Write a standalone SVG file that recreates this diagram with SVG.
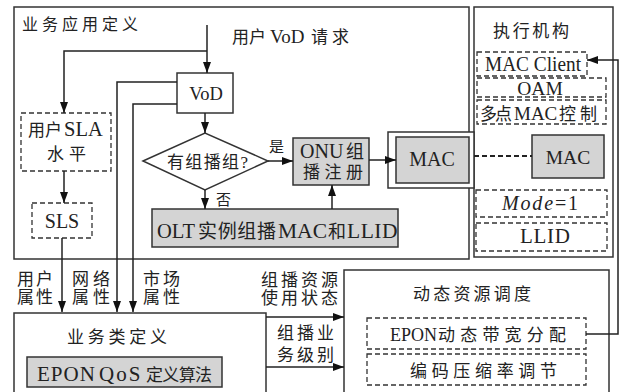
<svg xmlns="http://www.w3.org/2000/svg" width="620" height="392" viewBox="0 0 620 392" font-size="17">
<style>
text{font-family:"Liberation Serif","Times New Roman","DejaVu Serif","Noto Sans CJK SC",serif;fill:#222}
.box{fill:#fff;stroke:#333;stroke-width:1.5}
.gray{fill:#d4d4d4;stroke:#333;stroke-width:1.5}
.dash{fill:#fff;stroke:#333;stroke-width:1.3;stroke-dasharray:5,3}
.ln{fill:none;stroke:#222;stroke-width:1.5}
.c{text-anchor:middle}
</style>
<defs>
<marker id="ah" markerWidth="11" markerHeight="8" refX="11" refY="4" orient="auto" markerUnits="userSpaceOnUse">
<path d="M0,0 L11,4 L0,8 z" fill="#111"/>
</marker>
</defs>
<rect width="620" height="392" fill="#fff"/>

<g id="app-def">
<rect class="box" x="14" y="7" width="455" height="252"/>
<text x="22" y="30" font-size="16" textLength="116" lengthAdjust="spacing">业务应用定义</text>
<text y="43"><tspan x="232" textLength="34" lengthAdjust="spacing">用户</tspan><tspan x="270" font-size="19">VoD</tspan><tspan x="311" textLength="38" lengthAdjust="spacing">请求</tspan></text>
</g>

<g id="exec">
<rect class="box" x="474" y="7" width="139" height="250"/>
<text x="493" y="37" textLength="76" lengthAdjust="spacing">执行机构</text>
</g>

<g id="mac-client">
<rect class="dash" x="477" y="52" width="110" height="24"/>
<text x="485" y="71" font-size="20" textLength="96" lengthAdjust="spacingAndGlyphs">MAC Client</text>
</g>
<g id="oam">
<rect class="dash" x="477" y="78" width="129" height="19"/>
<text class="c" x="540" y="95" font-size="19.5">OAM</text>
</g>
<g id="mpcp">
<rect class="dash" x="477" y="100" width="129" height="24"/>
<text y="120"><tspan x="480" textLength="32" lengthAdjust="spacing">多点</tspan><tspan x="514" font-size="19">MAC</tspan><tspan x="559" textLength="38" lengthAdjust="spacing">控制</tspan></text>
</g>
<g id="mac-right">
<rect class="gray" x="532" y="135" width="72" height="43"/>
<text class="c" x="568" y="164" font-size="19.5">MAC</text>
</g>
<g id="mode">
<rect class="dash" x="476" y="190" width="131" height="27"/>
<text x="502" y="210" font-size="20" textLength="76" lengthAdjust="spacing"><tspan font-style="italic">Mode</tspan>=1</text>
</g>
<g id="llid">
<rect class="dash" x="476" y="223" width="131" height="28"/>
<text x="520" y="243" font-size="21" textLength="50" lengthAdjust="spacing">LLID</text>
</g>

<g id="vod">
<rect class="box" x="177" y="73" width="56" height="40"/>
<text class="c" x="206" y="100" font-size="18.5">VoD</text>
</g>

<g id="sla">
<rect class="dash" x="21" y="113" width="90" height="58"/>
<text y="136"><tspan x="28" textLength="34" lengthAdjust="spacing">用户</tspan><tspan x="64" font-size="20.5">SLA</tspan></text>
<text x="47" y="160" textLength="39" lengthAdjust="spacing">水平</text>
</g>

<g id="sls">
<rect class="dash" x="32" y="203" width="60" height="35"/>
<text class="c" x="62" y="228" font-size="20">SLS</text>
</g>

<g id="decision">
<polygon class="box" points="143,161 205,133 268,161 205,190"/>
<text x="167" y="168" textLength="81" lengthAdjust="spacing">有组播组?</text>
</g>

<g id="onu">
<rect class="gray" x="293" y="138" width="76" height="47"/>
<text y="158"><tspan x="300" font-size="20">ONU</tspan><tspan x="346" font-size="18">组</tspan></text>
<text x="303" y="178" textLength="60" lengthAdjust="spacing">播注册</text>
</g>

<g id="mac-left">
<rect class="box" x="388" y="132" width="86" height="56"/>
<rect class="gray" x="396" y="137" width="73" height="46"/>
<text class="c" x="432" y="166" font-size="20">MAC</text>
</g>

<g id="olt">
<rect class="gray" x="152" y="209" width="246" height="38"/>
<text y="238" font-size="20.5"><tspan x="157">OLT</tspan><tspan x="198" font-size="19" textLength="78" lengthAdjust="spacing">实例组播</tspan><tspan x="278" font-size="21.5">MAC</tspan><tspan x="328" font-size="18">和</tspan><tspan x="347" font-size="21.5" letter-spacing="0.5">LLID</tspan></text>
</g>

<g id="svc-class">
<rect class="box" x="14" y="313" width="252" height="85"/>
<text x="67" y="343" textLength="100" lengthAdjust="spacing">业务类定义</text>
<rect class="gray" x="27" y="357" width="195" height="30"/>
<text y="381" font-size="21"><tspan x="37" letter-spacing="1">EPON</tspan><tspan x="99" letter-spacing="2">QoS</tspan><tspan x="146" font-size="17" textLength="66" lengthAdjust="spacing">定义算法</tspan></text>
</g>

<g id="dyn">
<rect class="box" x="344" y="270" width="265" height="128"/>
<text x="413" y="300" textLength="118" lengthAdjust="spacing">动态资源调度</text>
<rect class="dash" x="367" y="318" width="219" height="31"/>
<text y="341"><tspan x="390" font-size="18">EPON</tspan><tspan x="438" textLength="128" lengthAdjust="spacing">动态带宽分配</tspan></text>
<rect class="dash" x="367" y="354" width="219" height="31"/>
<text x="410" y="377" textLength="147" lengthAdjust="spacing">编码压缩率调节</text>
</g>

<g id="connectors">
<path class="ln" d="M207,25 V73" marker-end="url(#ah)"/>
<path class="ln" d="M207,51 H64 V113" marker-end="url(#ah)"/>
<path class="ln" d="M64,171 V203" marker-end="url(#ah)"/>
<path class="ln" d="M62,238 V312" marker-end="url(#ah)"/>
<path class="ln" d="M177,82 H117 V312" marker-end="url(#ah)"/>
<path class="ln" d="M177,104 H133 V312" marker-end="url(#ah)"/>
<path class="ln" d="M205,113 V133" marker-end="url(#ah)"/>
<path class="ln" d="M268,161 H293" marker-end="url(#ah)"/>
<path class="ln" d="M205,190 V209" marker-end="url(#ah)"/>
<path class="ln" d="M332,209 V185" marker-end="url(#ah)"/>
<path class="ln" d="M369,160 H396" marker-end="url(#ah)"/>
<path fill="none" stroke="#222" stroke-width="2" stroke-dasharray="5,3" d="M474,156 H532"/>
<path class="ln" d="M586,334 H618 V60 H587" marker-end="url(#ah)"/>
<path class="ln" d="M266,317 H344" marker-end="url(#ah)"/>
<path class="ln" d="M266,367 H344" marker-end="url(#ah)"/>
<text x="269" y="152" font-size="15">是</text>
<text x="216" y="205" font-size="15">否</text>
<text x="17" y="285" textLength="36" lengthAdjust="spacing">用户</text>
<text x="17" y="303" textLength="36" lengthAdjust="spacing">属性</text>
<text x="72" y="285" textLength="38" lengthAdjust="spacing">网络</text>
<text x="72" y="303" textLength="38" lengthAdjust="spacing">属性</text>
<text x="143" y="285" textLength="37" lengthAdjust="spacing">市场</text>
<text x="143" y="303" textLength="37" lengthAdjust="spacing">属性</text>
<text x="261" y="286" textLength="77" lengthAdjust="spacing">组播资源</text>
<text x="261" y="304" textLength="77" lengthAdjust="spacing">使用状态</text>
<text x="277" y="339" textLength="57" lengthAdjust="spacing">组播业</text>
<text x="277" y="361" textLength="57" lengthAdjust="spacing">务级别</text>
</g>
</svg>
